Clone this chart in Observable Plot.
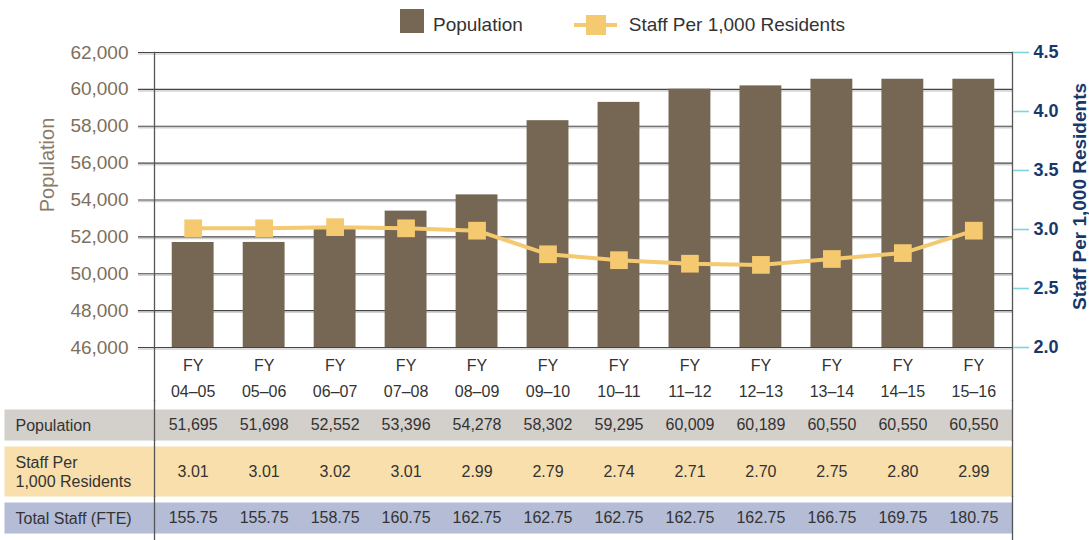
<!DOCTYPE html>
<html>
<head>
<meta charset="utf-8">
<script src="https://cdn.jsdelivr.net/npm/d3@7"></script>
<script src="https://cdn.jsdelivr.net/npm/@observablehq/plot@0.6"></script>
<style>
  body { margin: 0; background: #fff; font-family: "Liberation Sans", Arial, sans-serif; }
  svg { display: block; }
  #legend { height: 44px; display: flex; align-items: center; padding-left: 400px; padding-top: 6px; box-sizing: border-box; font-size: 19px; color: #333; }
  #legend .sw { width: 24px; height: 24px; background: #756753; margin-right: 9px; margin-top: -8px; }
  #legend .ln { margin-left: 51px; margin-right: 12px; }
</style>
</head>
<body>
<div id="legend">
  <div class="sw"></div><span>Population</span>
  <svg class="ln" width="43" height="24"><line x1="0" x2="43" y1="12" y2="12" stroke="#f4c96f" stroke-width="4"></line><rect x="12" y="2" width="20" height="20" fill="#f4c96f"></rect></svg><span>Staff Per 1,000 Residents</span>
</div>
<div id="chart"></div>
<div id="table"></div>
<script>
// ---- data ----
const fiscalYears = ["04–05", "05–06", "06–07", "07–08", "08–09", "09–10", "10–11", "11–12", "12–13", "13–14", "14–15", "15–16"];
const population = [51695, 51698, 52552, 53396, 54278, 58302, 59295, 60009, 60189, 60550, 60550, 60550];
const staffPer1000 = [3.01, 3.01, 3.02, 3.01, 2.99, 2.79, 2.74, 2.71, 2.70, 2.75, 2.80, 2.99];
const totalStaff = [155.75, 155.75, 158.75, 160.75, 162.75, 162.75, 162.75, 162.75, 162.75, 166.75, 169.75, 180.75];
const populationTicks = [46000, 48000, 50000, 52000, 54000, 56000, 58000, 60000, 62000];
const staffTicks = [2.0, 2.5, 3.0, 3.5, 4.0, 4.5];
const rowLabels = ["Population", "Staff Per\n1,000 Residents", "Total Staff (FTE)"];

// ---- scales / helpers ----
const popDomain = [46000, 62000];
const staffDomain = [2.0, 4.5];
const toPop = v => popDomain[0] + (v - staffDomain[0]) / (staffDomain[1] - staffDomain[0]) * (popDomain[1] - popDomain[0]);
const toStaff = p => staffDomain[0] + (p - popDomain[0]) / (popDomain[1] - popDomain[0]) * (staffDomain[1] - staffDomain[0]);

const W = 1089, ML = 154, MR = 77;
const font = '"Liberation Sans", Arial, sans-serif';
const xScale = {type: "band", domain: fiscalYears, paddingInner: 0.41, paddingOuter: 0.25, round: false, axis: null};
const data = fiscalYears.map((fy, i) => ({fy, pop: population[i], staff: staffPer1000[i], total: totalStaff[i]}));

const gridDark = "#444";
const navy = "#17386b";
const gold = "#f4c96f";

const chart = Plot.plot({
  width: W, height: 356,
  marginTop: 8, marginBottom: 53, marginLeft: ML, marginRight: MR,
  style: {fontFamily: font, background: "transparent", overflow: "visible"},
  x: xScale,
  y: {domain: popDomain, axis: null},
  marks: [
    Plot.ruleY(populationTicks, {stroke: "#d2d2d2", strokeWidth: 1.5, dy: 1.5, insetLeft: -16}),
    Plot.ruleY(populationTicks, {stroke: gridDark, strokeWidth: 1.2, insetLeft: -16}),
    Plot.barY(data, {x: "fy", y1: popDomain[0], y2: "pop", fill: "#756753"}),
    Plot.line(data, {x: "fy", y: d => toPop(d.staff), stroke: gold, strokeWidth: 4}),
    Plot.dot(data, {x: "fy", y: d => toPop(d.staff), symbol: "square", r: 10, fill: gold, stroke: "none"}),
    Plot.frame({anchor: "left", stroke: "#555", strokeWidth: 1.3, insetBottom: -53}),
    Plot.frame({anchor: "right", stroke: "#555", strokeWidth: 1.3, insetBottom: -53}),
    Plot.axisY({ticks: populationTicks, anchor: "left", tickSize: 0, tickPadding: 26, tickFormat: d3.format(","), fontSize: 19, color: "#7d6f5d", label: null}),
    Plot.axisY({ticks: staffTicks.map(toPop), anchor: "right", tickSize: 16, tickPadding: 5, tickFormat: v => toStaff(v).toFixed(1), fontSize: 18, fontWeight: "bold", stroke: "#7fd3dd", strokeWidth: 1.6, fill: navy, label: null}),
    Plot.text(["Population"], {frameAnchor: "left", textAnchor: "middle", rotate: -90, dx: -107, dy: -35, fontSize: 20, fill: "#8a7a66"}),
    Plot.text(["Staff Per 1,000 Residents"], {frameAnchor: "right", textAnchor: "middle", rotate: -90, dx: 67, dy: -3.5, fontSize: 19, fontWeight: "bold", fill: navy}),
    Plot.text(data, {x: "fy", text: d => `FY\n${d.fy}`, frameAnchor: "bottom", lineAnchor: "top", dy: 5, fontSize: 16, lineHeight: 1.62, fill: "#333"})
  ]
});
document.getElementById("chart").appendChild(chart);

// ---- data table drawn with Plot, sharing the x scale ----
const rows = [
  {label: rowLabels[0], values: population.map(d3.format(",")), fill: "#d3cfca", h: 31, above: 9, below: 0},
  {label: rowLabels[1], values: staffPer1000.map(v => v.toFixed(2)), fill: "#f8dfab", h: 50, above: 6, below: 0},
  {label: rowLabels[2], values: totalStaff.map(v => v.toFixed(2)), fill: "#b4bcd6", h: 31, above: 6, below: 7}
];
const table = document.getElementById("table");
for (const r of rows) {
  const cells = fiscalYears.map((fy, i) => ({fy, v: r.values[i]}));
  const p = Plot.plot({
    width: W, height: r.above + r.h + r.below,
    marginTop: r.above, marginBottom: r.below, marginLeft: ML, marginRight: MR,
    style: {fontFamily: font, background: "transparent", overflow: "visible"},
    x: xScale,
    marks: [
      Plot.frame({fill: r.fill, stroke: "none", insetLeft: -(ML - 4)}),
      Plot.text(cells, {x: "fy", text: "v", frameAnchor: "middle", fontSize: 16, fill: "#333"}),
      Plot.text([r.label], {frameAnchor: "left", dx: -(ML - 15), textAnchor: "start", fontSize: 16, lineHeight: 1.2, fill: "#333"}),
      Plot.frame({anchor: "left", stroke: "#555", strokeWidth: 1.3, insetTop: -r.above, insetBottom: -r.below}),
      Plot.frame({anchor: "right", stroke: "#555", strokeWidth: 1.3, insetTop: -r.above, insetBottom: -r.below})
    ]
  });
  table.appendChild(p);
}
</script>
</body>
</html>
